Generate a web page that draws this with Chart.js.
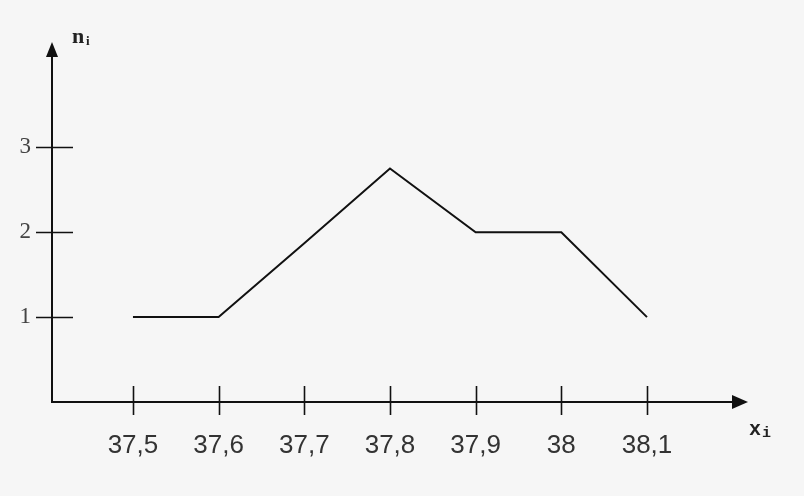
<!DOCTYPE html>
<html>
<head>
<meta charset="utf-8">
<script src="https://cdn.jsdelivr.net/npm/chart.js@4"></script>
<style>
  html, body { margin: 0; padding: 0; background: #f6f6f6; }
  #wrap { width: 804px; height: 496px; }
</style>
</head>
<body>
<div id="wrap"><canvas id="c" width="804" height="496"></canvas></div>
<script>
// ---- data ----
const xValues = [37.5, 37.6, 37.7, 37.8, 37.9, 38.0, 38.1];
const xTickLabels = ["37,5", "37,6", "37,7", "37,8", "37,9", "38", "38,1"];
const nValues = [1, 1, 1.87, 2.75, 2, 2, 1];
const yTickValues = [1, 2, 3];
const yTickLabels = ["1", "2", "3"];
const xTitle = ["x", "i"];
const yTitle = ["n", "i"];

const points = xValues.map((x, i) => ({ x: x, y: nValues[i] }));

const axesPlugin = {
  id: 'arrowAxes',
  afterDraw(chart) {
    const ctx = chart.ctx;
    const a = chart.chartArea;
    const xs = chart.scales.x, ys = chart.scales.y;
    ctx.save();
    ctx.strokeStyle = '#111';
    ctx.fillStyle = '#111';
    ctx.lineWidth = 2;
    // y axis
    ctx.beginPath();
    ctx.moveTo(a.left, a.bottom);
    ctx.lineTo(a.left, a.top + 8);
    ctx.stroke();
    ctx.beginPath();
    ctx.moveTo(a.left, a.top);
    ctx.lineTo(a.left - 6, a.top + 15);
    ctx.lineTo(a.left + 6, a.top + 15);
    ctx.closePath();
    ctx.fill();
    // x axis
    ctx.beginPath();
    ctx.moveTo(a.left - 1, a.bottom);
    ctx.lineTo(a.right - 8, a.bottom);
    ctx.stroke();
    ctx.beginPath();
    ctx.moveTo(a.right, a.bottom);
    ctx.lineTo(a.right - 16, a.bottom - 7);
    ctx.lineTo(a.right - 16, a.bottom + 7);
    ctx.closePath();
    ctx.fill();
    // x tick marks
    ctx.lineWidth = 1.6;
    xValues.forEach(v => {
      const px = Math.round(xs.getPixelForValue(v)) + 0.5;
      ctx.beginPath();
      ctx.moveTo(px, a.bottom - 16);
      ctx.lineTo(px, a.bottom + 13);
      ctx.stroke();
    });
    // y tick marks
    yTickValues.forEach(v => {
      const py = Math.round(ys.getPixelForValue(v)) + 0.5;
      ctx.beginPath();
      ctx.moveTo(a.left - 16, py);
      ctx.lineTo(a.left + 21, py);
      ctx.stroke();
    });
    // axis titles
    ctx.fillStyle = '#222';
    ctx.textBaseline = 'alphabetic';
    ctx.font = 'bold 22px "Liberation Serif"';
    ctx.fillText(yTitle[0], 72, 43);
    ctx.font = 'bold 13px "Liberation Serif"';
    ctx.fillText(yTitle[1], 86, 45);
    ctx.font = 'bold 20px "Liberation Mono"';
    ctx.fillText(xTitle[0], 749, 435);
    ctx.font = 'bold 15px "Liberation Mono"';
    ctx.fillText(xTitle[1], 762, 437);
    ctx.restore();
  }
};

new Chart(document.getElementById('c'), {
  type: 'line',
  data: {
    datasets: [{
      data: points,
      borderColor: '#111',
      borderWidth: 2,
      pointRadius: 0,
      tension: 0,
      fill: false
    }]
  },
  options: {
    responsive: false,
    animation: false,
    events: [],
    layout: { padding: { top: 42, right: 56, left: 0, bottom: 0 } },
    plugins: { legend: { display: false }, tooltip: { enabled: false } },
    scales: {
      x: {
        type: 'linear',
        min: 37.4055,
        max: 38.2179,
        grid: { display: false },
        border: { display: false },
        afterFit(s) { s.height = 94; },
        afterBuildTicks(s) { s.ticks = xValues.map(v => ({ value: v })); },
        ticks: {
          autoSkip: false,
          maxRotation: 0,
          padding: 20,
          color: '#333',
          font: { family: '"Liberation Sans"', size: 26 },
          callback: (v) => { const i = xValues.indexOf(v); return i >= 0 ? xTickLabels[i] : ''; }
        }
      },
      y: {
        type: 'linear',
        min: 0,
        max: 4.24,
        grid: { display: false },
        border: { display: false },
        afterFit(s) { s.width = 52; },
        afterBuildTicks(s) { s.ticks = yTickValues.map(v => ({ value: v })); },
        ticks: {
          padding: 13,
          color: '#444',
          font: { family: '"Liberation Serif"', size: 23 },
          callback: (v) => { const i = yTickValues.indexOf(v); return i >= 0 ? yTickLabels[i] : ''; }
        }
      }
    }
  },
  plugins: [axesPlugin]
});
</script>
</body>
</html>
